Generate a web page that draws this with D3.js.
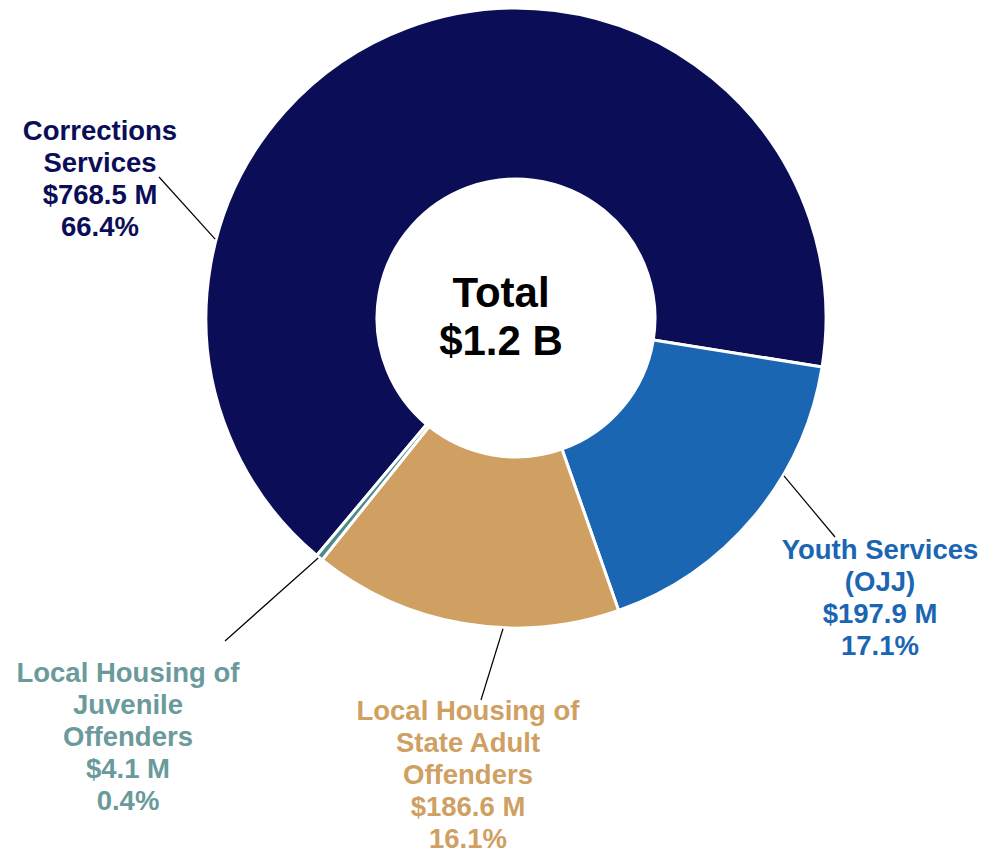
<!DOCTYPE html>
<html>
<head>
<meta charset="utf-8">
<script src="https://cdn.jsdelivr.net/npm/d3@7"></script>
<style>
    body { margin: 0; background: #ffffff; }
    svg text { font-family: "Liberation Sans", Arial, sans-serif; font-weight: bold; }
</style>
</head>
<body>
<div id="chart"></div>
<script>
// Chart data
var categories = ["Corrections Services", "Youth Services (OJJ)", "Local Housing of State Adult Offenders", "Local Housing of Juvenile Offenders"];
var amounts = [768.5, 197.9, 186.6, 4.1];
var amountLabels = ["$768.5 M", "$197.9 M", "$186.6 M", "$4.1 M"];
var percentLabels = ["66.4%", "17.1%", "16.1%", "0.4%"];
var nameLines = [
    ["Corrections", "Services"],
    ["Youth Services", "(OJJ)"],
    ["Local Housing of", "State Adult", "Offenders"],
    ["Local Housing of", "Juvenile", "Offenders"]
];
var totalLines = ["Total", "$1.2 B"];

// Styles
var sliceColors = ["#0b0e56", "#1a66b3", "#cfa062", "#4d8a8e"];
var labelColors = ["#0b0e56", "#1a66b3", "#cfa062", "#6a9a9c"];

// Layout
var svgWidth = 987;
var svgHeight = 852;
var cx = 516, cy = 318;
var outerR = 310, innerR = 139;
var firstSliceDeg = 220;
var fontSize = 27.5;
var lineGap = 32;

// label block anchor (center x, baseline of first line) and leader line
var labelAnchor = [[100, 140], [880, 559], [468, 720], [128, 682]];
var leaderAngleDeg = [284.7, 120.5, 182.4, 219.5];
var leaderEnd = [[159, 177], [835, 537], [481, 700], [225, 641]];

var svg = d3.select("#chart")
    .append("svg")
    .attr("width", svgWidth)
    .attr("height", svgHeight);

var pieGroup = svg.append("g")
    .attr("transform", `translate(${cx}, ${cy})`);

var rad = Math.PI / 180;

var pie = d3.pie()
    .sort(null)
    .value(d => d)
    .startAngle(firstSliceDeg * rad)
    .endAngle((firstSliceDeg + 360) * rad);

var arc = d3.arc()
    .innerRadius(innerR)
    .outerRadius(outerR);

pieGroup.selectAll("path.slice")
    .data(pie(amounts))
    .enter()
    .append("path")
    .attr("class", "slice")
    .attr("d", arc)
    .attr("fill", (d, i) => sliceColors[i])
    .attr("stroke", "#ffffff")
    .attr("stroke-width", 3)
    .attr("stroke-linejoin", "miter");

// leader lines
categories.forEach(function (c, i) {
    var p = d3.pointRadial(leaderAngleDeg[i] * rad, outerR + 1);
    svg.append("line")
        .attr("x1", cx + p[0])
        .attr("y1", cy + p[1])
        .attr("x2", leaderEnd[i][0])
        .attr("y2", leaderEnd[i][1])
        .attr("stroke", "#000000")
        .attr("stroke-width", 1.2);
});

// labels
categories.forEach(function (c, i) {
    var lines = nameLines[i].concat([amountLabels[i], percentLabels[i]]);
    var t = svg.append("text")
        .attr("text-anchor", "middle")
        .attr("fill", labelColors[i])
        .style("font-size", fontSize + "px");
    lines.forEach(function (l, j) {
        t.append("tspan")
            .attr("x", labelAnchor[i][0])
            .attr("y", labelAnchor[i][1] + j * lineGap)
            .text(l);
    });
});

// center total
var totalText = svg.append("text")
    .attr("text-anchor", "middle")
    .attr("fill", "#000000")
    .style("font-size", "42px");

totalLines.forEach(function (l, j) {
    totalText.append("tspan")
        .attr("x", cx - 15)
        .attr("y", 307 + j * 48)
        .text(l);
});
</script>
</body>
</html>
